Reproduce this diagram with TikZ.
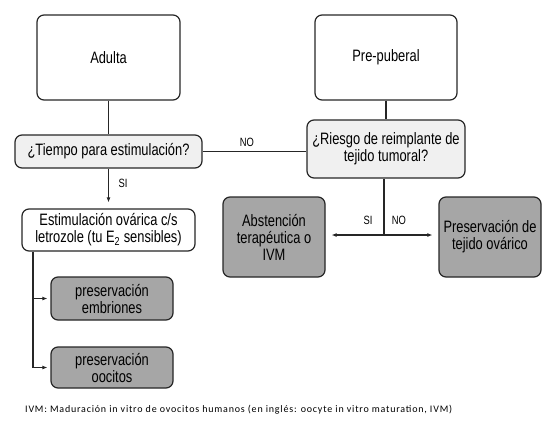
\documentclass[tikz,border=0pt]{standalone}
\usepackage{fontspec}
\setmainfont{Liberation Sans}[FakeStretch=0.78]
\newfontfamily\notefont{Carlito}[LetterSpace=8]
\usetikzlibrary{arrows.meta,positioning}
\definecolor{rand}{HTML}{262626}
\definecolor{hell}{HTML}{F0F0F0}
\definecolor{dunkel}{HTML}{A6A6A6}
\tikzset{
  box/.style={draw=rand,line width=1.2pt,rounded corners=7pt,align=center,inner sep=0pt,font=\fontsize{16.5}{17}\selectfont},
  frage/.style={box,fill=hell},
  ende/.style={box,fill=dunkel},
  verb/.style={rand,line width=1.2pt},
  pfeil/.style={verb,-{Latex[length=5pt,width=4pt]}},
  lab/.style={font=\fontsize{12}{14}\selectfont,inner sep=1pt},
}

\begin{document}
\begin{tikzpicture}[x=1pt,y=-1pt]
  \useasboundingbox (0,0) rectangle (554,432);
  % Startkaesten
  \node[box,minimum width=143pt,minimum height=85pt] (adulta) at (108.5,57.5) {Adulta};
  \node[box,minimum width=142pt,minimum height=85pt] (prepub) at (386,57.5) {Pre-puberal};
  % Fragen
  \node[frage,minimum width=187pt,minimum height=33pt] (tiempo) at (108.5,151.5) {¿Tiempo para estimulación?};
  \node[frage,minimum width=158pt,minimum height=58pt] (riesgo) at (386,149) {¿Riesgo de reimplante de\\tejido tumoral?};
  \node[box,fill=white,minimum width=173pt,minimum height=42pt] (estim) at (108.5,230) {Estimulación ovárica c/s\\letrozole (tu E\textsubscript{2} sensibles)};
  % Ergebnisse
  \node[ende,minimum width=122pt,minimum height=43pt] (embri) at (112,298.5) {preservación\\embriones};
  \node[ende,minimum width=122pt,minimum height=41pt] (oocit) at (112,367.5) {preservación\\oocitos};
  \node[ende,minimum width=102pt,minimum height=80pt] (absten) at (274,237) {Abstención\\terapéutica o\\IVM};
  \node[ende,minimum width=102pt,minimum height=80pt] (tejido) at (490,237) {Preservación de\\tejido ovárico};
  % Verbindungen
  \draw[verb] (adulta) -- (tiempo);
  \draw[verb] (prepub) -- (riesgo);
  \draw[verb] (tiempo.east) -- (tiempo.east -| riesgo.west);
  \node[lab] (no1) at (247,142) {NO};
  \draw[pfeil,shorten >=6pt] (tiempo) -- (estim);
  \node[lab] (si1) at (123,183) {SI};
  \coordinate (split) at (384,235);
  \draw[verb] (split |- riesgo.south) -- (split);
  \draw[pfeil,shorten >=6pt] (split) -- (split -| absten.east);
  \draw[pfeil,shorten >=6pt] (split) -- (split -| tejido.west);
  \node[lab] (si2) at (368,220) {SI};
  \node[lab] (no2) at (399,220) {NO};
  \coordinate (ast) at (33,0);
  \draw[pfeil,shorten >=3pt] (estim.south -| ast) |- (oocit.west);
  \draw[pfeil,shorten >=3pt] (ast |- embri.west) -- (embri.west);
  % Fussnote
  \node[anchor=west,inner sep=0pt,font=\notefont\fontsize{10}{12}\selectfont] (nota) at (25,410) {IVM: Maduración in vitro de ovocitos humanos (en inglés: oocyte in vitro maturation, IVM)};
\end{tikzpicture}
\end{document}
